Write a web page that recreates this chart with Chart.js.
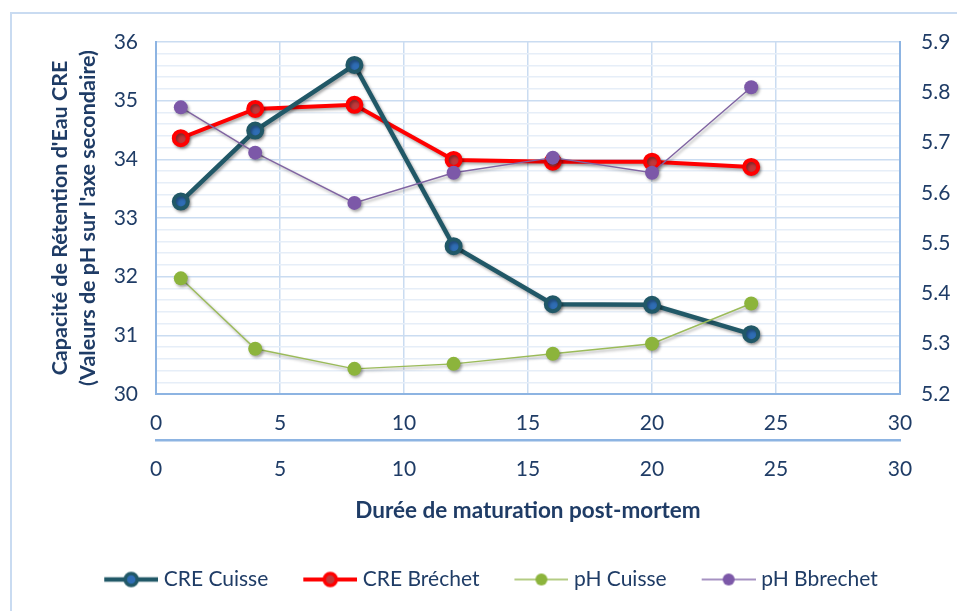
<!DOCTYPE html>
<html>
<head>
<meta charset="utf-8">
<script src="https://cdn.jsdelivr.net/npm/chart.js@4.4.1/dist/chart.umd.min.js"></script>
<style>
  html, body { margin: 0; padding: 0; background: #ffffff; }
  #wrap { position: relative; width: 957px; height: 611px; overflow: hidden; }
  #frame { position: absolute; left: 10px; top: 12px; width: 1000px; height: 700px;
           border-left: 2px solid #C9DBF1; border-top: 2px solid #C9DBF1; box-sizing: border-box; }
  canvas { position: absolute; left: 0; top: 0; }
</style>
</head>
<body>
<div id="wrap">
  <div id="frame"></div>
  <canvas id="c" width="957" height="611"></canvas>
</div>
<script>
// ---- data ----
const days = [1, 4, 8, 12, 16, 20, 24];
const creCuisse = [33.28, 34.49, 35.61, 32.52, 31.53, 31.52, 31.02];
const creBrechet = [34.36, 34.86, 34.93, 33.99, 33.96, 33.96, 33.87];
const phCuisse = [5.43, 5.29, 5.25, 5.26, 5.28, 5.30, 5.38];
const phBrechet = [5.77, 5.68, 5.58, 5.64, 5.67, 5.64, 5.81];
const seriesNames = ['CRE Cuisse', 'CRE Bréchet', 'pH Cuisse', 'pH Bbrechet'];
const xTicksMinMax = [0, 30];
const yLeftMinMax = [30, 36];
const yRightMinMax = [5.2, 5.9];
const xAxisTitle = 'Durée de maturation post-mortem';
const yAxisTitle = ["Capacité de Rétention d'Eau CRE", "(Valeurs de pH sur l'axe secondaire)"];

const FONT = 'Lato, "Open Sans", sans-serif';
const TXT = '#1F3C66';
const MAJOR = '#CADCF1';
const MINOR = '#E6EEF8';
const AXIS = '#8DB4E2';

function pts(vals) { return days.map((d, i) => ({ x: d, y: vals[i] })); }

function legendIcon(lineColor, lineW, fill, border, bw, r) {
  const c = document.createElement('canvas');
  c.width = 84; c.height = 22;
  const g = c.getContext('2d');
  g.strokeStyle = lineColor; g.lineWidth = lineW;
  g.beginPath(); g.moveTo(30, 11); g.lineTo(84, 11); g.stroke();
  g.beginPath(); g.arc(57, 11, r, 0, Math.PI * 2);
  g.fillStyle = fill; g.fill();
  if (bw > 0) { g.lineWidth = bw; g.strokeStyle = border; g.stroke(); }
  return c;
}
const legendIcons = [
  legendIcon('#215867', 4.5, '#2F6DB5', '#215867', 3.5, 6),
  legendIcon('#FF0000', 4, '#C0393B', '#FF0000', 3.5, 6),
  legendIcon('#B4CC84', 2, '#8CB43C', '#8CB43C', 0, 6),
  legendIcon('#A692C2', 2, '#7C58A8', '#7C58A8', 0, 6)
];

const shadowPlugin = {
  id: 'shadow',
  beforeDatasetsDraw(chart) {
    const ctx = chart.ctx;
    ctx.save();
    ctx.shadowColor = 'rgba(0,0,0,0.35)';
    ctx.shadowBlur = 3;
    ctx.shadowOffsetX = 1.5;
    ctx.shadowOffsetY = 2;
  },
  afterDatasetsDraw(chart) { chart.ctx.restore(); }
};

const isInt = v => Math.abs(v - Math.round(v)) < 1e-6;

new Chart(document.getElementById('c'), {
  type: 'line',
  data: {
    datasets: [
      {
        label: seriesNames[0], data: pts(creCuisse), yAxisID: 'y', xAxisID: 'x', order: 2,
        borderColor: '#215867', borderWidth: 4.5, pointRadius: 7, pointHoverRadius: 7, pointStyle: 'circle',
        pointBackgroundColor: '#2F6DB5', pointBorderColor: '#215867', pointBorderWidth: 4
      },
      {
        label: seriesNames[1], data: pts(creBrechet), yAxisID: 'y', xAxisID: 'x', order: 3,
        borderColor: '#FF0000', borderWidth: 4, pointRadius: 7, pointHoverRadius: 7, pointStyle: 'circle',
        pointBackgroundColor: '#C0393B', pointBorderColor: '#FF0000', pointBorderWidth: 4
      },
      {
        label: seriesNames[2], data: pts(phCuisse), yAxisID: 'y2', xAxisID: 'x', order: 1,
        borderColor: '#9BBB59', borderWidth: 1.4, pointRadius: 7, pointHoverRadius: 7, pointStyle: 'circle',
        pointBackgroundColor: '#8CB43C', pointBorderColor: '#8CB43C', pointBorderWidth: 0
      },
      {
        label: seriesNames[3], data: pts(phBrechet), yAxisID: 'y2', xAxisID: 'x', order: 0,
        borderColor: '#8064A2', borderWidth: 1.4, pointRadius: 7, pointHoverRadius: 7, pointStyle: 'circle',
        pointBackgroundColor: '#7C58A8', pointBorderColor: '#7C58A8', pointBorderWidth: 0
      }
    ]
  },
  options: {
    responsive: false,
    animation: false,
    layout: { padding: { top: 42, left: 0, right: 0, bottom: 11 } },
    plugins: {
      tooltip: { enabled: false },
      legend: {
        position: 'bottom',
        labels: {
          usePointStyle: true,
          pointStyleWidth: 74,
          boxHeight: 21,
          padding: 10,
          color: TXT,
          font: { family: FONT, size: 21 },
          sort: (a, b) => a.datasetIndex - b.datasetIndex,
          generateLabels: chart => {
            const items = Chart.defaults.plugins.legend.labels.generateLabels(chart);
            items.forEach(it => { it.pointStyle = legendIcons[it.datasetIndex]; });
            return items;
          }
        }
      }
    },
    scales: {
      x: {
        type: 'linear', position: 'bottom', min: xTicksMinMax[0], max: xTicksMinMax[1],
        ticks: { stepSize: 5, color: TXT, font: { family: FONT, size: 21 }, padding: 17 },
        grid: { color: MAJOR, lineWidth: 1.5, drawTicks: false },
        border: { color: AXIS, width: 2 },
        afterFit: s => { s.height = 46; }
      },
      x2: {
        type: 'linear', position: 'bottom', min: xTicksMinMax[0], max: xTicksMinMax[1],
        ticks: { stepSize: 5, color: TXT, font: { family: FONT, size: 21 }, padding: 17 },
        grid: { display: false, drawTicks: false },
        border: { color: AXIS, width: 2.5 },
        title: { display: true, text: xAxisTitle, color: TXT,
                 font: { family: FONT, size: 22.5, weight: 'bold' }, padding: { top: 0, bottom: 35 } },
        afterFit: s => { s.height = 119; }
      },
      y: {
        type: 'linear', position: 'left', min: yLeftMinMax[0], max: yLeftMinMax[1],
        ticks: { stepSize: 0.2, autoSkip: false, color: TXT, font: { family: FONT, size: 21 }, padding: 18,
                 callback: v => isInt(v) ? String(Math.round(v)) : '' },
        grid: { drawTicks: false,
                color: c => (c.tick && isInt(c.tick.value)) ? MAJOR : MINOR,
                lineWidth: 1.5 },
        border: { color: AXIS, width: 2 },
        title: { display: true, text: yAxisTitle, color: TXT,
                 font: { family: FONT, size: 21.5, weight: 'bold', lineHeight: 1.3 }, padding: { top: 46, bottom: 0 } },
        afterFit: s => { s.width = 156; }
      },
      y2: {
        type: 'linear', position: 'right', min: yRightMinMax[0], max: yRightMinMax[1],
        ticks: { stepSize: 0.1, color: TXT, font: { family: FONT, size: 21 }, padding: 21,
                 callback: v => Number(v).toFixed(1) },
        grid: { display: false, drawTicks: false },
        border: { color: AXIS, width: 2 },
        afterFit: s => { s.width = 57; }
      }
    }
  },
  plugins: [shadowPlugin]
});
</script>
</body>
</html>
